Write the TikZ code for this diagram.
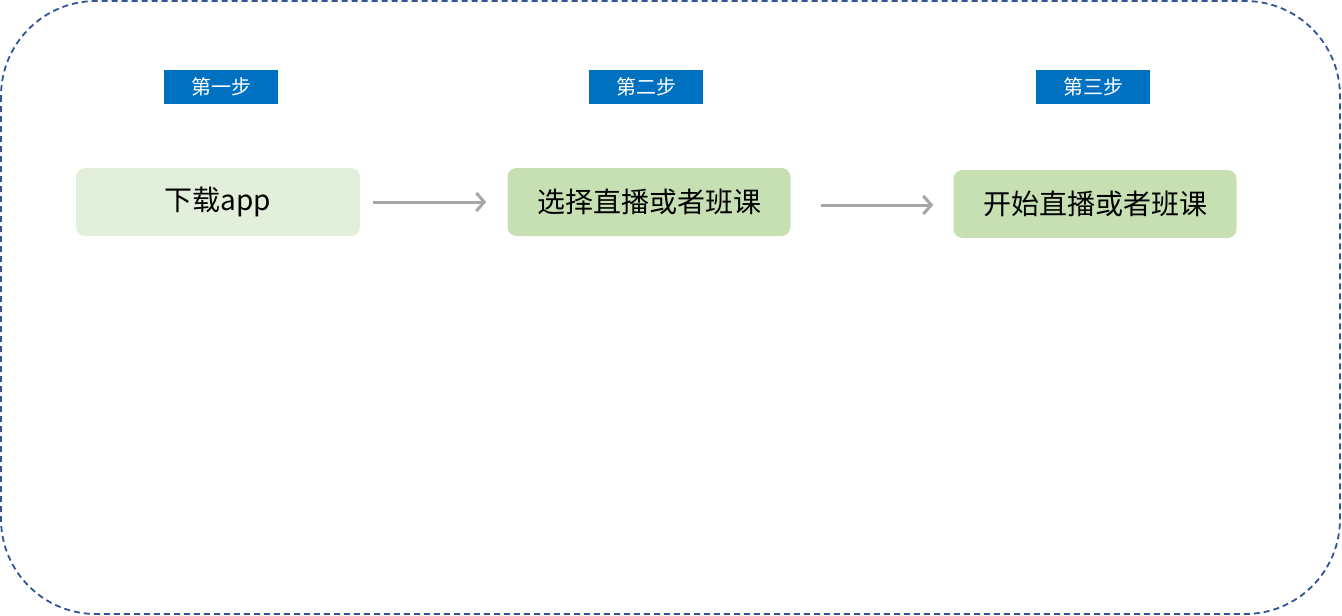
\documentclass[tikz,border=0pt]{standalone}
\usepackage{fontspec}
\newfontfamily\cjk{Noto Sans CJK SC}
\usepackage{xcolor}
\usetikzlibrary{arrows.meta,positioning}
\definecolor{tagblue}{HTML}{0070C0}
\definecolor{framecol}{HTML}{2F5597}
\definecolor{lightgreen}{HTML}{E2EFDA}
\definecolor{midgreen}{HTML}{C6E0B4}
\definecolor{arrowgray}{HTML}{A6A6A6}
\tikzset{
  tag/.style={fill=tagblue, text=white, minimum width=114pt, minimum height=34pt, inner sep=0pt, font=\cjk\fontsize{20}{20}\selectfont},
  stepbox/.style={rounded corners=9pt, minimum width=283pt, minimum height=68pt, inner sep=0pt, text=black, font=\cjk\fontsize{28}{28}\selectfont},
  flow/.style={draw=arrowgray, line width=3pt, -{Straight Barb[length=8pt, width=18pt]}}
}
\begin{document}
\begin{tikzpicture}[x=1pt, y=-1pt]
  \useasboundingbox (0,0) rectangle (1342,616);
  \draw[framecol, line width=1.8pt, dash pattern=on 6pt off 4pt, rounded corners=95pt] (1,1) rectangle (1340,614);
  % step labels
  \node[tag] (tag1) at (221,87) {第一步};
  \node[tag] (tag2) at (646,87) {第二步};
  \node[tag] (tag3) at (1093,87) {第三步};
  % steps
  \node[stepbox, fill=lightgreen, minimum width=284pt] (down) at (218,202) {下载app};
  \node[stepbox, fill=midgreen] (pick) at (649,202) {选择直播或者班课};
  \node[stepbox, fill=midgreen] (start) at (1095,204) {开始直播或者班课};
  \draw[flow] ([xshift=13pt]down.east) -- ([xshift=-21pt]pick.west);
  \draw[flow] ([xshift=30pt,yshift=-3pt]pick.east) -- ([xshift=-20pt,yshift=-1pt]start.west);
\end{tikzpicture}
\end{document}
